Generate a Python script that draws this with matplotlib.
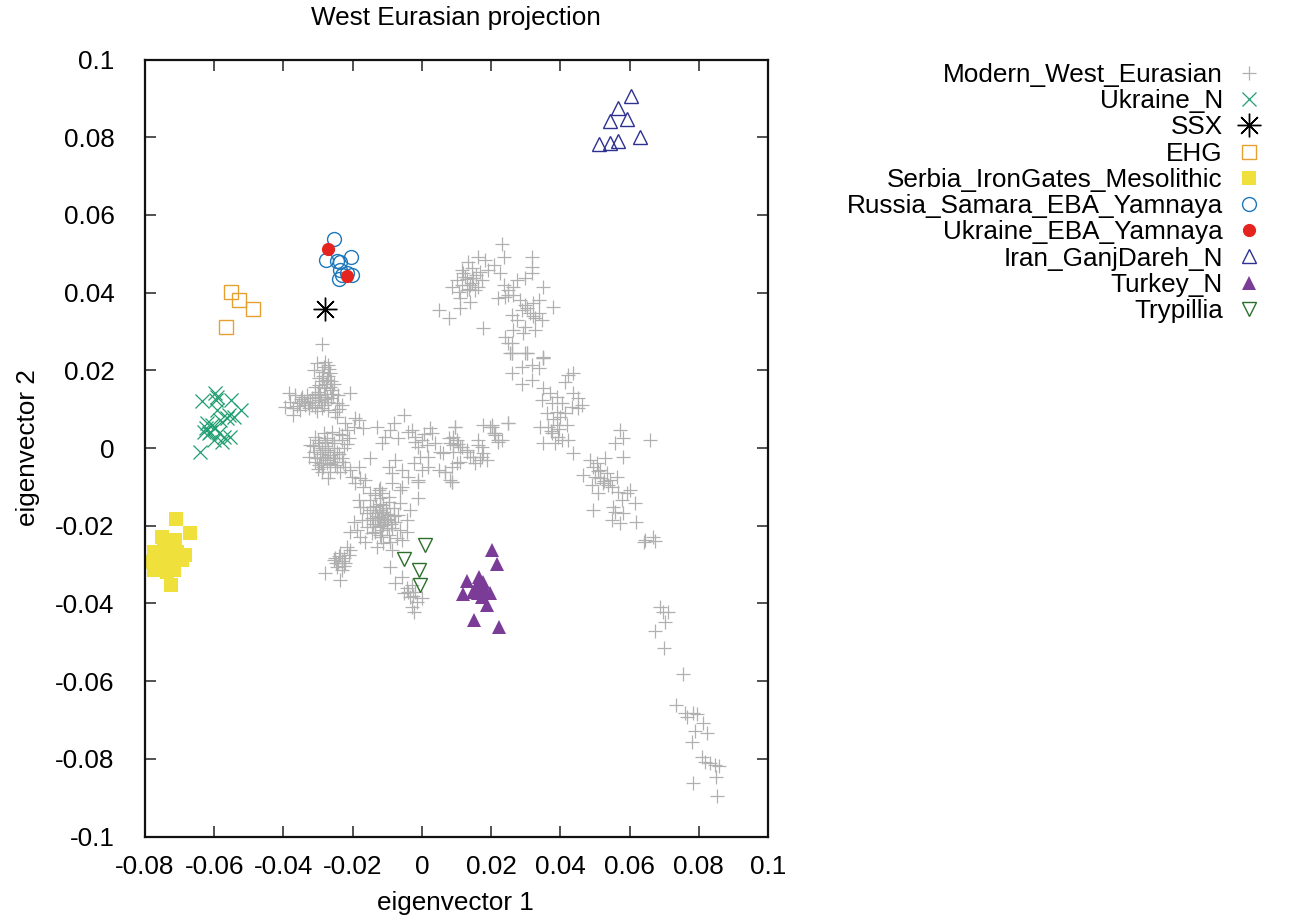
import matplotlib
matplotlib.use("Agg")
import matplotlib.pyplot as plt

plt.rcParams['font.family'] = ['Liberation Sans', 'DejaVu Sans']

# ---------------- data ----------------
modern_x = [
    # upper-left cluster
    -0.0289, -0.0303, -0.0279, -0.0270, -0.0313, -0.0289, -0.0265, -0.0298, -0.0274, -0.0255,
    -0.0308, -0.0284, -0.0260, -0.0241, -0.0207, -0.0294, -0.0274, -0.0317, -0.0298, -0.0270,
    -0.0245, -0.0231, -0.0385, -0.0366, -0.0346, -0.0332, -0.0380, -0.0356, -0.0337, -0.0395,
    -0.0371, -0.0351, -0.0327, -0.0308, -0.0289, -0.0270, -0.0250, -0.0371, -0.0245, -0.0322,
    -0.0284, -0.0280, -0.0262, -0.0292, -0.0276, -0.0286, -0.0268, -0.0300, -0.0318, -0.0340,
    -0.0360, -0.0282, -0.0272, -0.0296, -0.0262, -0.0280, -0.0300, -0.0258, -0.0310, -0.0290,
    -0.0266, -0.0350, -0.0330, -0.0302, -0.0240,
    # central cluster
    -0.0308, -0.0284, -0.0260, -0.0231, -0.0216, -0.0197, -0.0183, -0.0169, -0.0322, -0.0298,
    -0.0279, -0.0255, -0.0231, -0.0212, -0.0313, -0.0289, -0.0270, -0.0245, -0.0226, -0.0327,
    -0.0303, -0.0279, -0.0255, -0.0231, -0.0298, -0.0274, -0.0250, -0.0221, -0.0289, -0.0265,
    -0.0236, -0.0207, -0.0183, -0.0149, -0.0270, -0.0192, -0.0221, -0.0295, -0.0265, -0.0280,
    -0.0250, -0.0285, -0.0310, -0.0260, -0.0240, -0.0275, -0.0300, -0.0290, -0.0270, -0.0255,
    -0.0285, -0.0265, -0.0245, -0.0300, -0.0275, -0.0240, -0.0315, -0.0258, -0.0292, -0.0228,
    -0.0215,
    # trail to lower cluster
    -0.0202, -0.0178, -0.0164, -0.0192, -0.0169, -0.0149, -0.0135, -0.0115, -0.0096, -0.0125,
    # horizontal band
    -0.0130, -0.0106, -0.0091, -0.0082, -0.0053, -0.0068, -0.0115, -0.0029, -0.0019, 0.0000,
    -0.0010, 0.0014, 0.0024, 0.0029, 0.0038, 0.0053, 0.0019, -0.0005, -0.0024, 0.0000,
    0.0019, 0.0077, 0.0096, 0.0101, 0.0091, 0.0115, 0.0130, 0.0139, 0.0111, 0.0087,
    0.0067, 0.0087, 0.0163, 0.0173, 0.0188, 0.0178, 0.0202, 0.0212, 0.0231, 0.0154,
    0.0048, -0.0077, -0.0096, -0.0058, -0.0039, -0.0010, -0.0058, -0.0087,
    0.0096, 0.0091, 0.0082, 0.0111, 0.0130, 0.0149, 0.0168, 0.0178, 0.0163, 0.0197,
    0.0212, 0.0250, 0.0062, 0.0087, 0.0101, 0.0067, 0.0173, 0.0221,
    -0.0020, 0.0005, -0.0040, 0.0105, 0.0090,
    # lower cluster
    -0.0149, -0.0120, -0.0096, -0.0169, -0.0140, -0.0111, -0.0082, -0.0063, -0.0159, -0.0135,
    -0.0115, -0.0091, -0.0068, -0.0173, -0.0149, -0.0125, -0.0101, -0.0077, -0.0043, -0.0159,
    -0.0135, -0.0111, -0.0087, -0.0063, -0.0144, -0.0120, -0.0096, -0.0072, -0.0043, -0.0197,
    -0.0188, -0.0178, -0.0207, -0.0164, -0.0130, -0.0111, -0.0091, -0.0183, -0.0178, -0.0063,
    -0.0087, -0.0120, -0.0010, -0.0034, -0.0058, -0.0087, 0.0082, -0.0010,
    -0.0130, -0.0110, -0.0125, -0.0100, -0.0140, -0.0115, -0.0090, -0.0120, -0.0105, -0.0135,
    -0.0128, -0.0118, -0.0108, -0.0122, -0.0098, -0.0132, -0.0112, -0.0145, -0.0102, -0.0080,
    -0.0150, -0.0118,
    # lower-left sub cluster
    -0.0236, -0.0250, -0.0226, -0.0212, -0.0241, -0.0221, -0.0231, -0.0255, -0.0207, -0.0279,
    -0.0236, -0.0216, -0.0245, -0.0230, -0.0240, -0.0225, -0.0248,
    # near Trypillia
    -0.0091, -0.0058, -0.0043, -0.0029, -0.0019, -0.0053, -0.0034, 0.0000, -0.0014, -0.0029,
    -0.0024, -0.0077, -0.0025, -0.0040,
    # upper diagonal cluster
    0.0231, 0.0236, 0.0163, 0.0183, 0.0134, 0.0207, 0.0115, 0.0144, 0.0168, 0.0192,
    0.0125, 0.0149, 0.0173, 0.0101, 0.0087, 0.0115, 0.0139, 0.0163, 0.0106, 0.0130,
    0.0154, 0.0111, 0.0139, 0.0048, 0.0077, 0.0111, 0.0178, 0.0226, 0.0236, 0.0250,
    0.0264, 0.0274, 0.0298, 0.0317, 0.0317, 0.0317, 0.0351, 0.0240, 0.0221, 0.0264,
    0.0284, 0.0298, 0.0322, 0.0337, 0.0289, 0.0313, 0.0337, 0.0260, 0.0274, 0.0327,
    0.0346, 0.0380, 0.0298, 0.0327, 0.0264, 0.0240, 0.0260, 0.0255, 0.0298, 0.0351,
    0.0293, 0.0250, 0.0260, 0.0303, 0.0351,
    0.0130, 0.0145, 0.0120, 0.0155, 0.0135, 0.0250, 0.0305, 0.0320,
    # descending diagonal
    0.0260, 0.0303, 0.0351, 0.0260, 0.0289, 0.0317, 0.0337, 0.0317, 0.0289, 0.0351,
    0.0370, 0.0390, 0.0423, 0.0438, 0.0414, 0.0438, 0.0452, 0.0462, 0.0346, 0.0375,
    0.0404, 0.0433, 0.0452, 0.0361, 0.0390, 0.0414, 0.0341, 0.0365, 0.0390, 0.0418,
    0.0375, 0.0394, 0.0385, 0.0404, 0.0423, 0.0351, 0.0438, 0.0250, 0.0202, 0.0207,
    0.0221, 0.0572, 0.0582, 0.0558, 0.0659, 0.0582, 0.0486, 0.0505, 0.0529, 0.0495,
    0.0515, 0.0534, 0.0466, 0.0515, 0.0543, 0.0563, 0.0491, 0.0524, 0.0548, 0.0601,
    0.0510, 0.0567, 0.0592, 0.0577, 0.0616, 0.0553, 0.0558, 0.0495, 0.0582, 0.0548,
    0.0572, 0.0620, 0.0644, 0.0668,
    0.0380, 0.0395, 0.0372, 0.0400, 0.0510, 0.0525, 0.0500, 0.0538,
    # lower tail
    0.0642, 0.0673, 0.0688, 0.0697, 0.0712, 0.0702, 0.0673, 0.0700, 0.0753, 0.0734,
    0.0760, 0.0765, 0.0784, 0.0794, 0.0813, 0.0789, 0.0823, 0.0779, 0.0808, 0.0818,
    0.0832, 0.0846, 0.0859, 0.0849, 0.0784, 0.0854,
]
modern_y = [
    # upper-left cluster
    0.0268, 0.0218, 0.0222, 0.0214, 0.0201, 0.0196, 0.0192, 0.0179, 0.0175, 0.0166,
    0.0158, 0.0154, 0.0149, 0.0136, 0.0142, 0.0136, 0.0132, 0.0128, 0.0124, 0.0119,
    0.0115, 0.0111, 0.0141, 0.0136, 0.0132, 0.0136, 0.0119, 0.0115, 0.0111, 0.0106,
    0.0102, 0.0098, 0.0102, 0.0106, 0.0102, 0.0098, 0.0093, 0.0085, 0.0081, 0.0119,
    0.0111, 0.0140, 0.0128, 0.0118, 0.0165, 0.0186, 0.0203, 0.0145, 0.0110, 0.0120,
    0.0108, 0.0208, 0.0185, 0.0163, 0.0172, 0.0125, 0.0132, 0.0140, 0.0140, 0.0172,
    0.0158, 0.0125, 0.0115, 0.0095, 0.0100,
    # central cluster
    0.0029, 0.0038, 0.0042, 0.0033, 0.0046, 0.0055, 0.0072, 0.0051, 0.0008, 0.0012,
    0.0016, 0.0012, 0.0021, 0.0025, -0.0010, -0.0005, -0.0005, -0.0010, -0.0001, -0.0022,
    -0.0027, -0.0022, -0.0027, -0.0027, -0.0044, -0.0039, -0.0044, -0.0048, -0.0061, -0.0061,
    -0.0061, -0.0057, -0.0048, -0.0027, -0.0078, 0.0076, 0.0064, -0.0015, -0.0018, 0.0005,
    -0.0035, -0.0050, -0.0035, 0.0020, -0.0015, -0.0030, 0.0020, 0.0000, -0.0010, 0.0000,
    -0.0025, -0.0040, -0.0050, -0.0055, 0.0025, 0.0035, 0.0005, -0.0025, -0.0038, -0.0035,
    0.0010,
    # trail to lower cluster
    -0.0074, -0.0078, -0.0082, -0.0091, -0.0100, -0.0117, -0.0121, -0.0117, -0.0125, -0.0108,
    # horizontal band
    0.0055, 0.0029, 0.0046, 0.0064, 0.0085, 0.0025, 0.0012, 0.0046, 0.0029, 0.0021,
    0.0003, 0.0008, 0.0051, 0.0038, 0.0012, -0.0010, -0.0022, -0.0022, -0.0039, -0.0057,
    -0.0048, 0.0025, 0.0055, 0.0021, 0.0008, 0.0003, -0.0010, -0.0022, -0.0035, -0.0048,
    -0.0061, -0.0087, 0.0008, -0.0022, -0.0031, 0.0059, 0.0055, 0.0038, 0.0021, -0.0039,
    -0.0057, -0.0031, -0.0048, -0.0057, -0.0074, -0.0082, -0.0100, -0.0065,
    0.0055, 0.0029, 0.0012, 0.0003, -0.0005, -0.0022, -0.0031, -0.0014, 0.0021, 0.0055,
    0.0033, 0.0064, -0.0014, -0.0087, -0.0039, -0.0061, 0.0003, 0.0016,
    0.0015, 0.0035, 0.0040, 0.0010, -0.0010,
    # lower cluster
    -0.0134, -0.0129, -0.0138, -0.0151, -0.0151, -0.0147, -0.0155, -0.0142, -0.0168, -0.0168,
    -0.0164, -0.0172, -0.0172, -0.0185, -0.0185, -0.0181, -0.0185, -0.0190, -0.0185, -0.0203,
    -0.0203, -0.0198, -0.0207, -0.0211, -0.0220, -0.0224, -0.0224, -0.0232, -0.0215, -0.0190,
    -0.0211, -0.0228, -0.0215, -0.0241, -0.0254, -0.0245, -0.0241, -0.0134, -0.0151, -0.0108,
    -0.0091, -0.0104, -0.0129, -0.0160, -0.0237, -0.0263, -0.0082, -0.0087,
    -0.0175, -0.0190, -0.0160, -0.0170, -0.0195, -0.0210, -0.0195, -0.0145, -0.0155, -0.0215,
    -0.0185, -0.0178, -0.0182, -0.0200, -0.0182, -0.0150, -0.0165, -0.0180, -0.0205, -0.0175,
    -0.0160, -0.0228,
    # lower-left sub cluster
    -0.0271, -0.0284, -0.0284, -0.0275, -0.0297, -0.0297, -0.0314, -0.0288, -0.0263, -0.0323,
    -0.0340, -0.0254, -0.0306, -0.0290, -0.0278, -0.0305, -0.0295,
    # near Trypillia
    -0.0306, -0.0331, -0.0361, -0.0353, -0.0370, -0.0374, -0.0383, -0.0387, -0.0396, -0.0408,
    -0.0421, -0.0348, -0.0380, -0.0370,
    # upper diagonal cluster
    0.0525, 0.0492, 0.0492, 0.0484, 0.0480, 0.0471, 0.0458, 0.0463, 0.0454, 0.0458,
    0.0441, 0.0437, 0.0432, 0.0432, 0.0415, 0.0420, 0.0420, 0.0415, 0.0402, 0.0407,
    0.0407, 0.0385, 0.0377, 0.0355, 0.0334, 0.0360, 0.0308, 0.0450, 0.0420, 0.0407,
    0.0415, 0.0432, 0.0437, 0.0450, 0.0492, 0.0467, 0.0415, 0.0389, 0.0385, 0.0394,
    0.0381, 0.0368, 0.0372, 0.0381, 0.0355, 0.0347, 0.0347, 0.0342, 0.0329, 0.0334,
    0.0329, 0.0364, 0.0312, 0.0304, 0.0304, 0.0286, 0.0269, 0.0244, 0.0244, 0.0235,
    0.0295, 0.0270, 0.0244, 0.0244, 0.0231,
    0.0435, 0.0425, 0.0450, 0.0445, 0.0410, 0.0395, 0.0360, 0.0340,
    # descending diagonal
    0.0244, 0.0244, 0.0231, 0.0192, 0.0209, 0.0214, 0.0205, 0.0175, 0.0166, 0.0154,
    0.0141, 0.0132, 0.0188, 0.0192, 0.0171, 0.0141, 0.0128, 0.0111, 0.0124, 0.0115,
    0.0115, 0.0106, 0.0102, 0.0089, 0.0093, 0.0089, 0.0055, 0.0055, 0.0059, 0.0059,
    0.0038, 0.0029, 0.0012, 0.0021, 0.0021, 0.0012, -0.0014, 0.0064, 0.0059, 0.0038,
    0.0021, 0.0046, 0.0025, 0.0012, 0.0021, -0.0022, -0.0031, -0.0039, -0.0027, -0.0048,
    -0.0057, -0.0065, -0.0069, -0.0078, -0.0082, -0.0074, -0.0095, -0.0091, -0.0100, -0.0108,
    -0.0117, -0.0112, -0.0117, -0.0134, -0.0142, -0.0151, -0.0164, -0.0160, -0.0168, -0.0185,
    -0.0194, -0.0190, -0.0237, -0.0228,
    0.0075, 0.0050, 0.0045, 0.0080, -0.0060, -0.0085, -0.0075, -0.0095,
    # lower tail
    -0.0241, -0.0239, -0.0408, -0.0421, -0.0421, -0.0447, -0.0470, -0.0516, -0.0582, -0.0662,
    -0.0683, -0.0692, -0.0683, -0.0685, -0.0707, -0.0728, -0.0733, -0.0756, -0.0795, -0.0807,
    -0.0810, -0.0816, -0.0819, -0.0848, -0.0862, -0.0896,
]

ukraine_n_x = [-0.0635, -0.0597, -0.0592, -0.0594, -0.0551, -0.0522, -0.0592, -0.0558, -0.0620, -0.0625,
               -0.0606, -0.0582, -0.0563, -0.0544, -0.0587, -0.0573, -0.0553, -0.0616, -0.0630, -0.0642,
               -0.0601, -0.0577, -0.0597, -0.0611]
ukraine_n_y = [0.0121, 0.0141, 0.0132, 0.0124, 0.0124, 0.0098, 0.0098, 0.0085, 0.0064, 0.0051,
               0.0059, 0.0072, 0.0076, 0.0081, 0.0038, 0.0029, 0.0029, 0.0038, 0.0042, -0.0010,
               0.0021, 0.0016, 0.0051, 0.0042]

ssx_x = [-0.0279]
ssx_y = [0.0358]

ehg_x = [-0.0551, -0.0528, -0.0489, -0.0565]
ehg_y = [0.0401, 0.0381, 0.0358, 0.0312]

serbia_x = [-0.0710, -0.0671, -0.0750, -0.0712, -0.0775, -0.0741, -0.0707, -0.0683, -0.0786, -0.0755,
            -0.0722, -0.0693, -0.0775, -0.0736, -0.0717, -0.0726, -0.0765, -0.0746]
serbia_y = [-0.0184, -0.0218, -0.0228, -0.0237, -0.0267, -0.0263, -0.0267, -0.0275, -0.0293, -0.0297,
            -0.0293, -0.0288, -0.0314, -0.0318, -0.0314, -0.0353, -0.0280, -0.0250]

samara_x = [-0.0253, -0.0277, -0.0245, -0.0238, -0.0206, -0.0238, -0.0215, -0.0201, -0.0240, -0.0231]
samara_y = [0.0537, 0.0484, 0.0482, 0.0478, 0.0492, 0.0458, 0.0451, 0.0445, 0.0434, 0.0445]

ukr_eba_x = [-0.0270, -0.0215]
ukr_eba_y = [0.0512, 0.0444]

iran_x = [0.0603, 0.0567, 0.0544, 0.0592, 0.0631, 0.0513, 0.0543, 0.0566]
iran_y = [0.0907, 0.0874, 0.0842, 0.0846, 0.0801, 0.0782, 0.0784, 0.0791]

turkey_x = [0.0202, 0.0218, 0.0130, 0.0166, 0.0178, 0.0120, 0.0149, 0.0163, 0.0183, 0.0197,
            0.0188, 0.0151, 0.0224, 0.0159, 0.0173]
turkey_y = [-0.0263, -0.0299, -0.0342, -0.0331, -0.0344, -0.0376, -0.0370, -0.0374, -0.0366, -0.0374,
            -0.0404, -0.0443, -0.0462, -0.0353, -0.0383]

trypillia_x = [0.0008, -0.0052, -0.0008, -0.0005]
trypillia_y = [-0.0250, -0.0287, -0.0314, -0.0353]

xtick_values = [-0.08, -0.06, -0.04, -0.02, 0.0, 0.02, 0.04, 0.06, 0.08, 0.1]
xtick_labels = ['-0.08', '-0.06', '-0.04', '-0.02', '0', '0.02', '0.04', '0.06', '0.08', '0.1']
ytick_values = [-0.1, -0.08, -0.06, -0.04, -0.02, 0.0, 0.02, 0.04, 0.06, 0.08, 0.1]
ytick_labels = ['-0.1', '-0.08', '-0.06', '-0.04', '-0.02', '0', '0.02', '0.04', '0.06', '0.08', '0.1']

# ---------------- figure ----------------
W, H = 1303, 917
fig = plt.figure(figsize=(W / 100, H / 100), dpi=100)
ax = fig.add_axes([145 / W, 1 - 836.5 / H, (768 - 145) / W, (836.5 - 59.5) / H])

FS = 18.8

ax.plot(modern_x, modern_y, ls='none', marker='+', ms=9.5, mew=0.9, color='#b0b0b0',
        label='Modern_West_Eurasian')
ax.plot(ukraine_n_x, ukraine_n_y, ls='none', marker='x', ms=10, mew=0.9, color='#1f9e72',
        label='Ukraine_N')
ax.plot(ssx_x, ssx_y, ls='none', marker=(8, 2, 0), ms=17, mew=1.0, color='black',
        label='SSX')
ax.plot(ehg_x, ehg_y, ls='none', marker='s', ms=9.5, mew=1.0, mfc='none', color='#e6a030',
        label='EHG')
ax.plot(serbia_x, serbia_y, ls='none', marker='s', ms=10, mew=0, color='#f0e03c',
        label='Serbia_IronGates_Mesolithic')
ax.plot(samara_x, samara_y, ls='none', marker='o', ms=10, mew=1.0, mfc='none', color='#1c78bb',
        label='Russia_Samara_EBA_Yamnaya')
ax.plot(ukr_eba_x, ukr_eba_y, ls='none', marker='o', ms=9.5, mew=0, color='#e52420',
        label='Ukraine_EBA_Yamnaya')
ax.plot(iran_x, iran_y, ls='none', marker='^', ms=9.5, mew=1.0, mfc='none', color='#2d3190',
        label='Iran_GanjDareh_N')
ax.plot(turkey_x, turkey_y, ls='none', marker='^', ms=9.5, mew=0, color='#7b3c98',
        label='Turkey_N')
ax.plot(trypillia_x, trypillia_y, ls='none', marker='v', ms=9.5, mew=1.0, mfc='none', color='#2b6f2b',
        label='Trypillia')

ax.set_xlim(-0.08, 0.1)
ax.set_ylim(-0.1, 0.1)
ax.set_xticks(xtick_values)
ax.set_xticklabels(xtick_labels)
ax.set_yticks(ytick_values)
ax.set_yticklabels(ytick_labels)
ax.tick_params(direction='in', length=8, width=1.1, top=True, right=True,
               labelsize=FS, color='#222222')
ax.tick_params(axis='x', pad=13)
ax.tick_params(axis='y', pad=22)
for s in ax.spines.values():
    s.set_linewidth(1.6)
    s.set_color('#111111')

fig.text(456 / W, 1 - 18 / H, 'West Eurasian projection', ha='center', va='center', fontsize=FS)
fig.text(455 / W, 1 - 903 / H, 'eigenvector 1', ha='center', va='center', fontsize=FS)
fig.text(28 / W, 1 - 448 / H, 'eigenvector 2', ha='center', va='center', rotation=90, fontsize=FS)

leg = ax.legend(loc='upper right', bbox_to_anchor=(1262 / W, 1 - 63 / H), bbox_transform=fig.transFigure,
                frameon=False, markerfirst=False, fontsize=FS, borderpad=0, borderaxespad=0,
                handlelength=1.0, handletextpad=0.5, labelspacing=0.085, numpoints=1)

fig.savefig('out.png', dpi=100)
